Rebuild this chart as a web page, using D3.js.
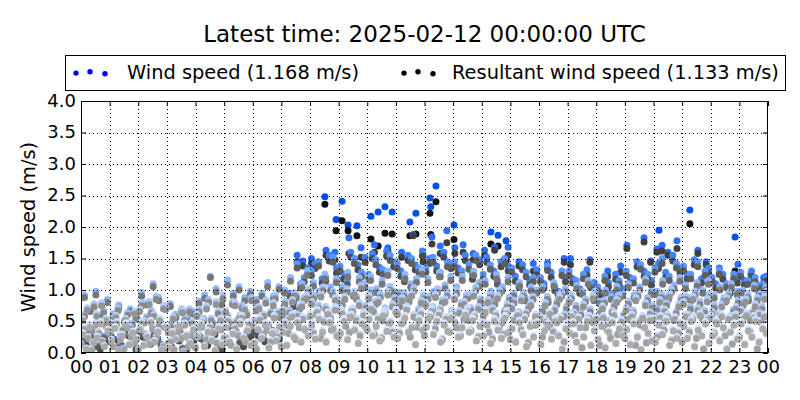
<!DOCTYPE html>
<html><head><meta charset="utf-8">
<script src="https://cdn.jsdelivr.net/npm/d3@7"></script>
<style>
body{margin:0;background:#fff}
svg{display:block}
text{font-family:"DejaVu Sans",sans-serif;fill:#000}
</style>
</head><body>
<svg id="c" width="800" height="400"></svg>
<script>
// ---------------- DATA ----------------
const titleText = "Latest time: 2025-02-12 00:00:00 UTC";
const seriesNames = ["Wind speed (1.168 m/s)", "Resultant wind speed (1.133 m/s)"];
const yLabel = "Wind speed (m/s)";
const xTickHours = d3.range(0, 25);
const xTickLabels = ["00","01","02","03","04","05","06","07","08","09","10","11","12","13","14","15","16","17","18","19","20","21","22","23","00"];
const yTickValues = [0,0.5,1.0,1.5,2.0,2.5,3.0,3.5,4.0];

// Oldest layer A (8 samples per hour)
const l1PerHour = 8, l1Phase = 0.5;
const l1Ws = [
 0.32,0.08,0.45,0.18,0.27,0.50,0.12,0.38, 0.22,0.42,0.05,0.30,0.48,0.15,0.35,0.25,
 0.40,0.14,0.28,0.52,0.20,0.36,0.06,0.44, 0.10,0.34,0.24,0.46,0.03,0.30,0.18,0.40,
 0.28,0.47,0.12,0.36,0.22,0.05,0.42,0.16, 0.44,0.20,0.33,0.08,0.50,0.26,0.38,0.14,
 0.18,0.40,0.26,0.48,0.10,0.34,0.22,0.45, 0.36,0.14,0.46,0.28,0.52,0.20,0.40,0.30,
 0.48,0.25,0.58,0.36,0.20,0.52,0.42,0.30, 0.34,0.55,0.24,0.62,0.40,0.18,0.50,0.45,
 0.58,0.30,0.46,0.22,0.64,0.38,0.52,0.28, 0.26,0.50,0.60,0.36,0.44,0.15,0.56,0.40,
 0.45,0.62,0.32,0.54,0.20,0.48,0.38,0.60, 0.52,0.28,0.44,0.65,0.36,0.56,0.22,0.46,
 0.30,0.48,0.18,0.55,0.40,0.26,0.60,0.35, 0.42,0.20,0.52,0.32,0.12,0.46,0.28,0.50,
 0.15,0.38,0.48,0.25,0.55,0.30,0.08,0.42, 0.34,0.50,0.20,0.44,0.28,0.54,0.14,0.38,
 0.24,0.46,0.10,0.36,0.52,0.18,0.42,0.30, 0.40,0.16,0.50,0.28,0.06,0.44,0.34,0.22,
 0.20,0.48,0.32,0.55,0.14,0.38,0.26,0.50, 0.46,0.26,0.54,0.12,0.40,0.30,0.50,0.18,
 0.30,0.52,0.22,0.44,0.08,0.36,0.48,0.25, 0.50,0.16,0.38,0.28,0.54,0.20,0.42,0.34];
const l1Rs = [
 0.29,0.06,0.41,0.16,0.24,0.46,0.10,0.35, 0.19,0.39,0.04,0.27,0.44,0.13,0.32,0.22,
 0.37,0.12,0.25,0.48,0.17,0.33,0.05,0.40, 0.08,0.31,0.21,0.42,0.02,0.27,0.15,0.37,
 0.25,0.43,0.10,0.33,0.19,0.04,0.38,0.13, 0.40,0.17,0.30,0.06,0.46,0.23,0.35,0.12,
 0.15,0.37,0.23,0.44,0.08,0.31,0.19,0.41, 0.33,0.12,0.42,0.25,0.48,0.17,0.37,0.27,
 0.44,0.22,0.53,0.33,0.17,0.48,0.38,0.27, 0.31,0.50,0.21,0.57,0.36,0.15,0.46,0.41,
 0.53,0.27,0.42,0.19,0.59,0.34,0.48,0.25, 0.23,0.46,0.55,0.33,0.40,0.13,0.51,0.36,
 0.41,0.57,0.29,0.50,0.17,0.44,0.34,0.55, 0.48,0.25,0.40,0.60,0.33,0.51,0.19,0.42,
 0.27,0.44,0.15,0.50,0.36,0.23,0.55,0.32, 0.38,0.17,0.48,0.29,0.10,0.42,0.25,0.46,
 0.13,0.35,0.44,0.22,0.50,0.27,0.06,0.38, 0.31,0.46,0.17,0.40,0.25,0.50,0.12,0.35,
 0.21,0.42,0.08,0.33,0.48,0.15,0.38,0.27, 0.37,0.13,0.46,0.25,0.05,0.40,0.31,0.19,
 0.17,0.44,0.29,0.50,0.12,0.35,0.23,0.46, 0.42,0.23,0.50,0.10,0.36,0.27,0.46,0.15,
 0.27,0.48,0.19,0.40,0.06,0.33,0.44,0.22, 0.46,0.13,0.35,0.25,0.50,0.17,0.38,0.31];

// Layer B (8 samples per hour)
const l1bPerHour = 8, l1bPhase = 0.0;
const l1bWs = [
 0.15,0.40,0.26,0.05,0.48,0.34,0.20,0.55, 0.36,0.12,0.50,0.24,0.08,0.44,0.30,0.18,
 0.06,0.50,0.32,0.16,0.42,0.26,0.55,0.12, 0.44,0.20,0.06,0.36,0.26,0.48,0.12,0.32,
 0.10,0.30,0.52,0.24,0.44,0.34,0.18,0.55, 0.26,0.54,0.14,0.42,0.30,0.60,0.20,0.48,
 0.46,0.08,0.56,0.32,0.40,0.20,0.60,0.28, 0.12,0.50,0.34,0.62,0.24,0.44,0.58,0.38,
 0.62,0.34,0.70,0.26,0.54,0.66,0.40,0.74, 0.28,0.68,0.46,0.35,0.72,0.56,0.30,0.64,
 0.40,0.75,0.32,0.58,0.26,0.68,0.50,0.36, 0.70,0.34,0.52,0.74,0.28,0.62,0.45,0.66,
 0.30,0.56,0.72,0.42,0.65,0.24,0.58,0.36, 0.66,0.44,0.30,0.58,0.72,0.38,0.62,0.28,
 0.50,0.70,0.36,0.25,0.64,0.46,0.32,0.68, 0.24,0.56,0.64,0.40,0.58,0.18,0.48,0.62,
 0.60,0.28,0.54,0.66,0.36,0.52,0.58,0.20, 0.48,0.62,0.30,0.58,0.10,0.44,0.60,0.52,
 0.58,0.14,0.60,0.46,0.26,0.64,0.32,0.54, 0.26,0.58,0.62,0.14,0.52,0.60,0.18,0.56,
 0.56,0.28,0.60,0.40,0.62,0.22,0.58,0.34, 0.20,0.62,0.36,0.58,0.26,0.64,0.08,0.56,
 0.60,0.34,0.56,0.62,0.30,0.58,0.16,0.62, 0.28,0.58,0.64,0.36,0.60,0.08,0.52,0.62];
const l1bRs = [
 0.13,0.37,0.23,0.04,0.44,0.31,0.18,0.51, 0.33,0.10,0.46,0.21,0.06,0.40,0.27,0.16,
 0.05,0.46,0.29,0.14,0.38,0.23,0.51,0.10, 0.40,0.17,0.05,0.33,0.23,0.44,0.10,0.29,
 0.08,0.27,0.48,0.21,0.40,0.31,0.15,0.51, 0.23,0.50,0.12,0.38,0.27,0.55,0.17,0.44,
 0.42,0.06,0.52,0.29,0.36,0.17,0.55,0.25, 0.10,0.46,0.31,0.57,0.21,0.40,0.53,0.35,
 0.57,0.31,0.64,0.23,0.49,0.61,0.36,0.68, 0.25,0.62,0.42,0.32,0.66,0.51,0.27,0.59,
 0.36,0.69,0.29,0.53,0.23,0.62,0.46,0.33, 0.64,0.31,0.48,0.68,0.25,0.57,0.41,0.61,
 0.27,0.51,0.66,0.38,0.60,0.21,0.53,0.33, 0.61,0.40,0.27,0.53,0.66,0.35,0.57,0.25,
 0.46,0.64,0.33,0.22,0.59,0.42,0.29,0.62, 0.21,0.51,0.59,0.36,0.53,0.16,0.44,0.57,
 0.55,0.25,0.49,0.61,0.33,0.48,0.53,0.17, 0.44,0.57,0.27,0.53,0.08,0.40,0.55,0.48,
 0.53,0.12,0.55,0.42,0.23,0.59,0.29,0.49, 0.23,0.53,0.57,0.12,0.48,0.55,0.16,0.51,
 0.51,0.25,0.55,0.36,0.57,0.19,0.53,0.31, 0.17,0.57,0.33,0.53,0.23,0.59,0.06,0.51,
 0.55,0.31,0.51,0.57,0.27,0.53,0.14,0.57, 0.25,0.53,0.59,0.33,0.55,0.06,0.48,0.57];

// Layer C (6 samples per hour)
const l2PerHour = 6, l2Phase = 0.3;
const l2Ws = [
 0.55,0.72,0.38,0.62,0.80,0.46, 0.48,0.60,0.30,0.55,0.42,0.66, 0.70,0.52,0.82,0.62,0.45,0.75,
 0.35,0.58,0.44,0.68,0.28,0.50, 0.62,0.45,0.75,0.55,0.82,0.40, 0.68,0.50,0.80,0.60,0.72,0.46,
 0.52,0.74,0.62,0.45,0.80,0.66, 0.70,0.55,0.85,0.62,0.78,0.92, 0.82,0.65,0.95,0.74,0.58,0.88,
 0.72,0.90,0.60,0.98,0.80,0.66, 0.92,0.70,0.85,0.55,0.98,0.78, 0.65,0.88,0.75,0.96,0.60,0.84,
 0.80,0.62,0.94,0.72,0.86,0.58, 0.90,0.68,0.82,0.55,0.96,0.74, 0.62,0.85,0.72,0.92,0.52,0.78,
 0.75,0.55,0.88,0.65,0.80,0.48, 0.58,0.80,0.45,0.72,0.90,0.62, 0.85,0.65,0.52,0.78,0.60,0.92,
 0.55,0.75,0.40,0.68,0.85,0.50, 0.72,0.58,0.88,0.48,0.80,0.65, 0.60,0.85,0.70,0.95,0.55,0.78,
 0.82,0.62,0.90,0.72,0.58,0.86, 0.66,0.50,0.78,0.88,0.60,0.74, 0.70,0.86,0.55,0.78,0.64,0.90];
const l2Rs = [
 0.51,0.68,0.35,0.58,0.75,0.42, 0.44,0.56,0.27,0.51,0.39,0.62, 0.66,0.48,0.77,0.58,0.41,0.70,
 0.32,0.54,0.40,0.64,0.25,0.46, 0.58,0.41,0.70,0.51,0.77,0.37, 0.64,0.46,0.75,0.56,0.68,0.42,
 0.48,0.70,0.58,0.41,0.75,0.62, 0.66,0.51,0.80,0.58,0.73,0.86, 0.77,0.61,0.89,0.69,0.54,0.83,
 0.67,0.85,0.56,0.92,0.75,0.62, 0.86,0.65,0.80,0.51,0.92,0.73, 0.61,0.83,0.70,0.90,0.56,0.79,
 0.75,0.58,0.88,0.67,0.81,0.54, 0.85,0.63,0.77,0.51,0.90,0.69, 0.58,0.80,0.67,0.86,0.48,0.73,
 0.70,0.51,0.83,0.61,0.75,0.44, 0.54,0.75,0.41,0.67,0.85,0.58, 0.80,0.61,0.48,0.73,0.56,0.86,
 0.51,0.70,0.37,0.64,0.80,0.46, 0.67,0.54,0.83,0.44,0.75,0.61, 0.56,0.80,0.65,0.89,0.51,0.73,
 0.77,0.58,0.85,0.67,0.54,0.81, 0.62,0.46,0.73,0.83,0.56,0.69, 0.65,0.81,0.51,0.73,0.60,0.85];

// Layer D (6 samples per hour)
const l2bPerHour = 6, l2bPhase = 0.75;
const l2bWs = [
 0.62,0.45,0.78,0.52,0.68,0.40, 0.55,0.72,0.38,0.64,0.48,0.58, 0.80,0.58,0.68,0.90,0.50,0.74,
 0.46,0.62,0.36,0.55,0.70,0.42, 0.70,0.55,0.85,0.48,0.66,0.92, 0.60,0.82,0.52,0.76,0.64,0.88,
 0.72,0.56,0.84,0.66,0.92,0.60, 0.82,0.68,0.96,0.74,0.88,1.02, 0.92,0.76,1.05,0.68,0.98,0.84,
 0.80,1.02,0.70,0.90,1.08,0.76, 1.00,0.82,0.94,0.72,1.06,0.88, 0.78,0.96,0.86,1.04,0.70,0.92,
 0.90,0.74,1.02,0.84,0.96,0.68, 1.00,0.80,0.92,0.72,1.05,0.86, 0.76,0.94,0.82,1.00,0.68,0.88,
 0.84,0.66,0.96,0.74,0.90,0.60, 0.70,0.90,0.58,0.82,0.96,0.74, 0.92,0.76,0.64,0.86,0.70,0.98,
 0.66,0.84,0.52,0.78,0.92,0.62, 0.82,0.68,0.96,0.58,0.88,0.76, 0.72,0.94,0.80,1.02,0.66,0.88,
 0.90,0.74,0.98,0.82,0.68,0.94, 0.76,0.62,0.88,0.96,0.70,0.84, 0.80,0.94,0.66,0.88,0.74,0.98];
const l2bRs = [
 0.58,0.41,0.73,0.48,0.64,0.37, 0.51,0.67,0.35,0.60,0.44,0.54, 0.75,0.54,0.63,0.85,0.46,0.69,
 0.42,0.58,0.33,0.51,0.65,0.39, 0.65,0.51,0.80,0.44,0.62,0.86, 0.56,0.77,0.48,0.71,0.60,0.83,
 0.67,0.52,0.79,0.62,0.86,0.56, 0.77,0.63,0.90,0.69,0.83,0.96, 0.86,0.71,0.99,0.63,0.92,0.79,
 0.75,0.96,0.65,0.85,1.02,0.71, 0.94,0.77,0.88,0.67,1.00,0.83, 0.73,0.90,0.81,0.98,0.65,0.86,
 0.85,0.69,0.96,0.79,0.90,0.63, 0.94,0.75,0.86,0.67,0.99,0.81, 0.71,0.88,0.77,0.94,0.63,0.83,
 0.79,0.62,0.90,0.69,0.85,0.56, 0.65,0.85,0.54,0.77,0.90,0.69, 0.86,0.71,0.60,0.81,0.65,0.92,
 0.62,0.79,0.48,0.73,0.86,0.58, 0.77,0.63,0.90,0.54,0.83,0.71, 0.67,0.88,0.75,0.96,0.62,0.83,
 0.85,0.69,0.92,0.77,0.63,0.88, 0.71,0.58,0.83,0.90,0.65,0.79, 0.75,0.88,0.62,0.83,0.69,0.92];

// Layer E (5 samples per hour)
const l3PerHour = 5, l3Phase = 0.6;
const l3Ws = [
 0.92,0.70,0.98,0.60,0.85, 0.62,0.76,0.52,0.70,0.58, 0.96,0.80,1.10,0.88,0.75, 0.78,0.60,0.70,0.55,0.66,
 0.82,0.92,1.22,1.02,0.80, 1.16,0.95,1.05,0.88,0.98, 0.85,0.95,1.12,0.90,1.05, 1.00,1.20,0.92,1.10,1.30,
 1.12,0.98,1.25,1.05,1.18, 1.05,1.28,0.95,1.20,1.10, 1.22,1.02,1.15,1.30,0.98, 0.96,1.25,1.10,1.18,1.32,
 1.18,0.98,1.28,1.08,1.22, 1.05,1.22,0.92,1.30,1.12, 1.15,0.98,1.25,1.05,1.20, 0.95,1.12,0.88,1.05,1.00,
 1.05,0.85,1.12,0.95,1.02, 0.92,1.08,0.98,1.15,0.88, 0.82,1.00,0.90,1.06,0.95, 1.10,0.92,1.05,1.18,0.98,
 0.98,1.15,0.90,1.08,1.20, 1.08,0.88,1.12,1.00,1.15, 0.92,1.05,0.86,1.10,0.98, 1.00,0.88,1.08,0.95,1.05];
const l3Rs = [
 0.88,0.66,0.92,0.57,0.80, 0.58,0.72,0.49,0.66,0.55, 0.90,0.76,1.05,0.83,0.71, 0.74,0.56,0.66,0.52,0.62,
 0.78,0.87,1.20,0.97,0.76, 1.08,0.90,1.00,0.83,0.93, 0.80,0.90,1.05,0.85,1.01, 0.95,1.14,0.87,1.04,1.24,
 1.06,0.93,1.18,0.99,1.12, 0.99,1.21,0.90,1.13,1.04, 1.15,0.96,1.09,1.23,0.93, 0.91,1.18,1.04,1.12,1.25,
 1.12,0.93,1.21,1.02,1.15, 0.99,1.15,0.87,1.23,1.06, 1.09,0.93,1.18,0.99,1.13, 0.90,1.06,0.83,0.99,0.95,
 1.00,0.80,1.06,0.90,0.97, 0.87,1.02,0.93,1.09,0.83, 0.78,0.95,0.85,1.00,0.90, 1.04,0.87,1.00,1.12,0.93,
 0.93,1.09,0.85,1.02,1.14, 1.02,0.83,1.06,0.95,1.09, 0.87,1.00,0.81,1.04,0.93, 0.95,0.83,1.02,0.90,1.00];

// Layer F (4 samples per hour)
const l4PerHour = 4, l4Phase = 0.2;
const l4Ws = [
 0.20,0.32,0.12,0.26, 0.28,0.10,0.34,0.18, 0.36,0.22,0.30,0.14, 0.15,0.28,0.08,0.24,
 0.32,0.20,0.38,0.12, 0.25,0.40,0.18,0.34, 0.38,0.26,0.45,0.30, 0.60,0.95,1.42,1.20,
 1.30,1.45,1.20,1.52, 1.38,1.15,1.50,1.28, 1.25,1.48,1.32,1.55, 1.42,1.20,1.50,1.35,
 1.35,1.52,1.28,1.45, 1.45,1.30,1.40,1.55, 1.25,1.40,1.15,1.50, 1.35,1.10,1.28,1.20,
 1.20,1.38,1.05,1.30, 1.30,1.15,1.25,1.10, 1.05,1.22,0.95,1.15, 1.30,1.18,1.40,1.25,
 1.35,1.50,1.22,1.42, 1.38,1.25,1.45,1.30, 1.20,1.32,1.10,1.25, 1.28,1.15,1.20,1.10];
const l4Rs = [
 0.18,0.29,0.10,0.23, 0.25,0.08,0.31,0.16, 0.33,0.20,0.27,0.12, 0.13,0.25,0.06,0.21,
 0.29,0.18,0.35,0.10, 0.22,0.37,0.16,0.31, 0.35,0.23,0.41,0.27, 0.56,0.90,1.35,1.13,
 1.23,1.38,1.14,1.44, 1.31,1.09,1.42,1.21, 1.18,1.40,1.25,1.47, 1.34,1.13,1.42,1.28,
 1.28,1.44,1.21,1.37, 1.37,1.23,1.33,1.47, 1.18,1.33,1.09,1.42, 1.28,1.04,1.21,1.13,
 1.13,1.31,0.99,1.23, 1.23,1.09,1.18,1.04, 0.99,1.15,0.90,1.09, 1.23,1.11,1.33,1.18,
 1.28,1.42,1.15,1.35, 1.31,1.18,1.37,1.23, 1.13,1.25,1.04,1.18, 1.21,1.09,1.13,1.04];

// Layer G (4 samples per hour)
const l4bPerHour = 4, l4bPhase = 0.7;
const l4bWs = [
 0.14,0.26,0.08,0.20, 0.22,0.12,0.30,0.06, 0.28,0.16,0.24,0.10, 0.10,0.22,0.05,0.18,
 0.26,0.14,0.32,0.08, 0.18,0.34,0.12,0.28, 0.30,0.20,0.36,0.24, 0.45,0.80,1.10,1.35,
 1.42,1.18,1.55,1.35, 1.25,1.60,1.40,1.52, 1.58,1.36,1.62,1.45, 1.30,1.55,1.40,1.62,
 1.50,1.38,1.60,1.42, 1.35,1.55,1.25,1.48, 1.52,1.30,1.45,1.38, 1.22,1.40,1.15,1.32,
 1.10,1.28,0.98,1.20, 1.18,1.02,1.32,1.12, 0.95,1.12,1.25,1.02, 1.20,1.45,1.30,1.15,
 1.42,1.28,1.55,1.35, 1.25,1.48,1.18,1.35, 1.10,1.25,1.02,1.18, 1.15,1.30,1.05,1.22];
const l4bRs = [
 0.12,0.23,0.06,0.18, 0.19,0.10,0.27,0.05, 0.25,0.14,0.21,0.08, 0.08,0.19,0.04,0.16,
 0.23,0.12,0.29,0.06, 0.16,0.31,0.10,0.25, 0.27,0.18,0.33,0.21, 0.41,0.74,1.03,1.27,
 1.34,1.11,1.46,1.27, 1.17,1.52,1.32,1.44, 1.50,1.28,1.54,1.37, 1.22,1.47,1.32,1.54,
 1.42,1.30,1.52,1.34, 1.27,1.47,1.17,1.40, 1.44,1.22,1.37,1.30, 1.14,1.32,1.08,1.24,
 1.03,1.20,0.92,1.13, 1.11,0.95,1.24,1.05, 0.89,1.05,1.17,0.95, 1.12,1.37,1.22,1.08,
 1.34,1.20,1.46,1.27, 1.17,1.40,1.11,1.27, 1.03,1.17,0.95,1.11, 1.08,1.22,0.98,1.14];

// Layer H (explicit times, hours)
const l5T  = [7.55,7.75,8.05,8.56,8.87,9.36,9.78,10.25,10.72,11.20,11.60,11.95,12.26,12.55,12.78,13.06,13.35,13.70,14.10,14.45,14.92,
  15.30,15.80,16.30,16.88,17.10,17.78,18.40,18.85,19.07,19.67,19.90,20.12,20.30,20.50,20.82,21.55,21.84,22.30,22.95,23.40,23.85];
const l5Ws = [1.55,1.46,1.50,1.63,1.60,1.83,1.67,1.72,1.67,1.60,1.88,1.55,1.84,1.70,1.94,1.67,1.72,1.58,1.63,1.68,1.68,
  1.45,1.42,1.43,1.50,1.50,1.48,1.30,1.38,1.71,1.83,1.46,1.65,1.71,1.60,1.78,1.63,1.45,1.35,1.41,1.25,1.20];
const l5Rs = [1.45,1.38,1.42,1.55,1.48,1.58,1.52,1.60,1.62,1.52,1.86,1.45,1.73,1.58,1.75,1.58,1.60,1.48,1.55,1.63,1.55,
  1.38,1.30,1.35,1.44,1.40,1.44,1.22,1.28,1.66,1.76,1.44,1.60,1.62,1.55,1.66,1.58,1.40,1.25,1.24,1.15,1.12];

// Latest layer (explicit times, hours)
const l6T  = [8.52,8.91,9.12,9.33,9.64,10.13,10.38,10.62,10.87,11.49,11.70,12.19,12.22,12.40,13.03,14.32,14.57,14.85,20.19,21.27,22.85];
const l6Ws = [2.48,2.12,2.41,2.03,2.02,2.17,2.24,2.32,2.24,2.08,2.22,2.46,2.32,2.65,2.03,1.92,1.87,1.78,1.95,2.27,1.84];
const l6Rs = [2.36,1.94,2.10,1.94,1.86,1.81,1.70,1.90,1.89,1.86,1.89,2.22,1.88,2.40,1.80,1.73,1.70,1.46,1.62,2.05,1.30];

// ---------------- STYLE ----------------
const W = 800, H = 400;
const M = {left: 81, right: 32, top: 101, bottom: 47};
const R = 3.5;
// newest -> oldest
const wsColors = ["#0050ee","#2a6dff","#3f82ff","#5a96ff","#8cb8ff","#a2c4ff","#b3cfff","#c8dcff","#d5e4ff"];
const rsColors = ["#111111","#3f3f3f","#4c4c4c","#5e5e5e","#777777","#888888","#939393","#a0a0a0","#ababab"];

function gridTimes(n, perHour, phase) {
  return d3.range(n).map(i => Math.floor(i / perHour) + ((i % perHour) + phase) / perHour);
}
const layers = [
  {t: l6T, ws: l6Ws, rs: l6Rs},
  {t: l5T, ws: l5Ws, rs: l5Rs},
  {t: gridTimes(l4bWs.length, l4bPerHour, l4bPhase), ws: l4bWs, rs: l4bRs},
  {t: gridTimes(l4Ws.length, l4PerHour, l4Phase), ws: l4Ws, rs: l4Rs},
  {t: gridTimes(l3Ws.length, l3PerHour, l3Phase), ws: l3Ws, rs: l3Rs},
  {t: gridTimes(l2bWs.length, l2bPerHour, l2bPhase), ws: l2bWs, rs: l2bRs},
  {t: gridTimes(l2Ws.length, l2PerHour, l2Phase), ws: l2Ws, rs: l2Rs},
  {t: gridTimes(l1bWs.length, l1bPerHour, l1bPhase), ws: l1bWs, rs: l1bRs},
  {t: gridTimes(l1Ws.length, l1PerHour, l1Phase), ws: l1Ws, rs: l1Rs}
];

const svg = d3.select("#c");
svg.append("rect").attr("width", W).attr("height", H).attr("fill", "#fff");

const x = d3.scaleLinear().domain([0, 24]).range([M.left, W - M.right]);
const y = d3.scaleLinear().domain([0, 4]).range([H - M.bottom, M.top]);

svg.append("clipPath").attr("id", "clip").append("rect")
  .attr("x", M.left).attr("y", M.top).attr("width", W - M.left - M.right).attr("height", H - M.top - M.bottom);

const pts = svg.append("g").attr("clip-path", "url(#clip)");
layers.forEach((L, k) => {
  const g = pts.append("g");
  g.selectAll("circle.ws").data(L.t.map((t, i) => [t, L.ws[i]])).join("circle")
    .attr("class", "ws").attr("cx", d => x(d[0])).attr("cy", d => y(d[1])).attr("r", R).attr("fill", wsColors[k]);
  g.selectAll("circle.rs").data(L.t.map((t, i) => [t, L.rs[i]])).join("circle")
    .attr("class", "rs").attr("cx", d => x(d[0])).attr("cy", d => y(d[1])).attr("r", R).attr("fill", rsColors[k]);
});

// grid
const grid = svg.append("g").attr("stroke", "#000").attr("stroke-width", 1).attr("stroke-dasharray", "1,3").attr("fill", "none");
xTickHours.slice(1, -1).forEach(h => grid.append("line")
  .attr("x1", Math.round(x(h)) + 0.5).attr("x2", Math.round(x(h)) + 0.5).attr("y1", M.top).attr("y2", H - M.bottom));
yTickValues.slice(1, -1).forEach(v => grid.append("line")
  .attr("y1", Math.round(y(v)) + 0.5).attr("y2", Math.round(y(v)) + 0.5).attr("x1", M.left).attr("x2", W - M.right));

// axes
const fs = 18;
const xAxis = d3.axisBottom(x).tickValues(xTickHours).tickFormat((d, i) => xTickLabels[i]).tickSizeInner(-5).tickSizeOuter(0).tickPadding(7);
const gx = svg.append("g").attr("transform", `translate(0,${H - M.bottom})`).call(xAxis);
const yAxis = d3.axisLeft(y).tickValues(yTickValues).tickFormat(d3.format(".1f")).tickSizeInner(-5).tickSizeOuter(0).tickPadding(5);
const gy = svg.append("g").attr("transform", `translate(${M.left},0)`).call(yAxis);
const gxt = svg.append("g").attr("transform", `translate(0,${M.top})`).call(d3.axisTop(x).tickValues(xTickHours).tickFormat("").tickSizeInner(-5).tickSizeOuter(0));
const gyr = svg.append("g").attr("transform", `translate(${W - M.right},0)`).call(d3.axisRight(y).tickValues(yTickValues).tickFormat("").tickSizeInner(-5).tickSizeOuter(0));
[gx, gy, gxt, gyr].forEach(g => {
  g.select(".domain").remove();
  g.selectAll("text").attr("font-size", fs).attr("font-family", "DejaVu Sans").attr("fill", "#000");
  g.selectAll("line").attr("stroke", "#000");
});
gy.selectAll("text").attr("dy", "0.3em");

// frame
svg.append("rect").attr("x", M.left + 0.5).attr("y", M.top + 0.5)
  .attr("width", W - M.left - M.right - 1).attr("height", H - M.top - M.bottom - 1)
  .attr("fill", "none").attr("stroke", "#000").attr("stroke-width", 1);

// y label
svg.append("text").attr("transform", `translate(35,${(M.top + H - M.bottom) / 2}) rotate(-90)`)
  .attr("text-anchor", "middle").attr("font-size", 19.4).text(yLabel);

// title
svg.append("text").attr("x", (M.left + W - M.right) / 2).attr("y", 42)
  .attr("text-anchor", "middle").attr("font-size", 23).text(titleText);

// legend
const lg = svg.append("g");
lg.append("rect").attr("x", 65.5).attr("y", 55.5).attr("width", 720).attr("height", 35)
  .attr("fill", "#fff").attr("stroke", "#000").attr("stroke-width", 1);
const legendItems = [
  {name: seriesNames[0], color: "#0000ff", dotsX: [76, 90, 105], textX: 127},
  {name: seriesNames[1], color: "#000000", dotsX: [404, 418, 433], textX: 452}
];
const dotDy = [0.6, -0.8, 1.2];
legendItems.forEach(it => {
  it.dotsX.forEach((dx, i) => lg.append("circle").attr("cx", dx).attr("cy", 72.5 + dotDy[i]).attr("r", 2.7).attr("fill", it.color));
  lg.append("text").attr("x", it.textX).attr("y", 78.5).attr("font-size", 19.4).text(it.name);
});
</script>
</body></html>
